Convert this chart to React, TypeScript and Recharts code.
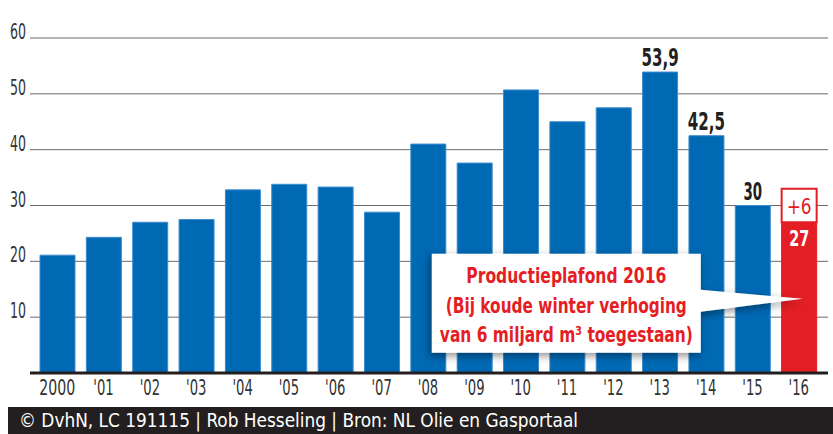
import React from 'react';
import {
  BarChart,
  Bar,
  XAxis,
  YAxis,
  CartesianGrid,
  Cell,
  LabelList,
  ReferenceDot
} from 'recharts';

const years = ['2000', "'01", "'02", "'03", "'04", "'05", "'06", "'07", "'08", "'09", "'10", "'11", "'12", "'13", "'14", "'15", "'16"];
const production = [21.1, 24.3, 27.0, 27.5, 32.8, 33.8, 33.3, 28.8, 41.0, 37.6, 50.7, 45.0, 47.5, 53.9, 42.5, 30, 27];
const winterExtra = [0, 0, 0, 0, 0, 0, 0, 0, 0, 0, 0, 0, 0, 0, 0, 0, 6];
const valueLabels = ['', '', '', '', '', '', '', '', '', '', '', '', '', '53,9', '42,5', '30', '27'];
const extraLabels = ['', '', '', '', '', '', '', '', '', '', '', '', '', '', '', '', '+6'];
const yTicks = [10, 20, 30, 40, 50, 60];

const calloutYear = "'16";
const calloutValue = 13.3;
const calloutLines = ['Productieplafond 2016', '(Bij koude winter verhoging', 'van 6 miljard m³ toegestaan)'];
const calloutWidths = [200, 241, 253];
const footerText = '© DvhN, LC 191115 | Rob Hesseling | Bron: NL Olie en Gasportaal';

const BLUE = '#0069b4';
const RED = '#e31e24';
const DARK = '#231f20';
const FONT = '"DejaVu Sans Condensed", "Liberation Sans Narrow", "Roboto Condensed", sans-serif';

const data = years.map((year, i) => ({
  year,
  production: production[i],
  extra: winterExtra[i],
  label: valueLabels[i],
  extraLabel: extraLabels[i]
}));

// squeeze text to roughly the condensed width of the original typeface
const narrow = (text: string, perChar: number) => ({
  textLength: text.length * perChar,
  lengthAdjust: 'spacingAndGlyphs' as const
});

const YTick = (props: any) => {
  const { x, y, payload } = props;
  const t = String(payload.value);
  return (
    <text x={x} y={y + 1} textAnchor="end" fill="#333" fontFamily={FONT} fontSize={22} {...narrow(t, 8)}>
      {t}
    </text>
  );
};

const XTick = (props: any) => {
  const { x, y, payload } = props;
  const t = String(payload.value);
  return (
    <text x={x} y={y} dy="0.71em" textAnchor="middle" fill="#333" fontFamily={FONT} fontSize={22} {...narrow(t, t.length === 4 ? 9 : 6.8)}>
      {t}
    </text>
  );
};

const ValueLabel = (props: any) => {
  const { x, y, width, index } = props;
  const text = valueLabels[index];
  if (!text) return null;
  const cx = x + width / 2;
  if (index === years.length - 1) {
    // the 2016 value sits inside the red bar
    return (
      <text x={cx} y={y + 24} textAnchor="middle" fill="#fff" fontFamily={FONT} fontWeight="bold" fontSize={22} {...narrow(text, 10)}>
        {text}
      </text>
    );
  }
  return (
    <text x={cx} y={y - 6} textAnchor="middle" fill={DARK} fontFamily={FONT} fontWeight="bold" fontSize={24} {...narrow(text, 9.3)}>
      {text}
    </text>
  );
};

const ExtraLabel = (props: any) => {
  const { x, y, width, value, viewBox } = props;
  const text = value || '';
  if (!text) return null;
  const bx = x ?? viewBox?.x;
  const by = y ?? viewBox?.y;
  const bw = width ?? viewBox?.width;
  const bh = props.height ?? viewBox?.height ?? 0;
  return (
    <text x={bx + bw / 2} y={by + Math.abs(bh) / 2 + 8} textAnchor="middle" fill={RED} fontFamily={FONT} fontSize={21} {...narrow(text, 12.5)}>
      {text}
    </text>
  );
};

const Callout = (props: any) => {
  const { cx, cy } = props;
  const tipX = cx + 4;
  const left = cx - 367;
  const right = cx - 98;
  const top = cy - 45;
  const bottom = cy + 54;
  const path = `M${left},${top} L${right},${top} L${right},${cy - 9} L${tipX},${cy} L${right},${cy + 13} L${right},${bottom} L${left},${bottom} Z`;
  const midX = (left + right) / 2;
  const baselines = [cy - 16, cy + 14, cy + 43];
  return (
    <g>
      <defs>
        <filter id="calloutShadow" x="-20%" y="-30%" width="140%" height="160%">
          <feDropShadow dx={-2} dy={3} stdDeviation={4} floodColor="#000" floodOpacity={0.45} />
        </filter>
      </defs>
      <path d={path} fill="#fff" filter="url(#calloutShadow)" />
      {calloutLines.map((line, i) => (
        <text
          key={i}
          x={midX}
          y={baselines[i]}
          textAnchor="middle"
          fill={RED}
          fontFamily={FONT}
          fontWeight="bold"
          fontSize={22}
          textLength={calloutWidths[i]}
          lengthAdjust="spacingAndGlyphs"
        >
          {line}
        </text>
      ))}
    </g>
  );
};

export default function App() {
  return (
    <div style={{ position: 'absolute', left: 0, top: 0, width: 833, height: 434, background: '#fff', overflow: 'hidden' }}>
      <BarChart width={833} height={404} data={data} margin={{ top: 38, right: 5, left: 0, bottom: 0 }}>
        <CartesianGrid vertical={false} stroke="#6b6b6b" strokeWidth={1} />
        <YAxis
          type="number"
          domain={[0, 60]}
          ticks={yTicks}
          width={30}
          axisLine={false}
          tickLine={false}
          tickSize={0}
          tickMargin={4}
          tick={<YTick />}
        />
        <XAxis
          dataKey="year"
          height={31}
          padding={{ left: 4, right: 6 }}
          axisLine={{ stroke: DARK, strokeWidth: 3 }}
          tickLine={false}
          tickSize={0}
          tickMargin={6}
          interval={0}
          tick={<XTick />}
        />
        <Bar dataKey="production" stackId="a" barSize={35} isAnimationActive={false}>
          {data.map((d, i) => (
            <Cell key={d.year} fill={i === years.length - 1 ? RED : BLUE} stroke={i === years.length - 1 ? RED : '#3d8bd0'} strokeWidth={1} />
          ))}
          <LabelList dataKey="label" content={<ValueLabel />} />
        </Bar>
        <Bar dataKey="extra" stackId="a" barSize={35} fill="#fff" stroke={RED} strokeWidth={2} isAnimationActive={false}>
          <LabelList dataKey="extraLabel" content={<ExtraLabel />} />
        </Bar>
        <ReferenceDot x={calloutYear} y={calloutValue} r={0} shape={<Callout />} />
      </BarChart>
      <svg width={825} height={27} style={{ position: 'absolute', left: 8, top: 407, display: 'block' }}>
        <rect x={0} y={0} width={825} height={27} fill={DARK} />
        <text x={11} y={20} fill="#fff" fontFamily={FONT} fontSize={19} textLength={559} lengthAdjust="spacingAndGlyphs">
          {footerText}
        </text>
      </svg>
    </div>
  );
}
